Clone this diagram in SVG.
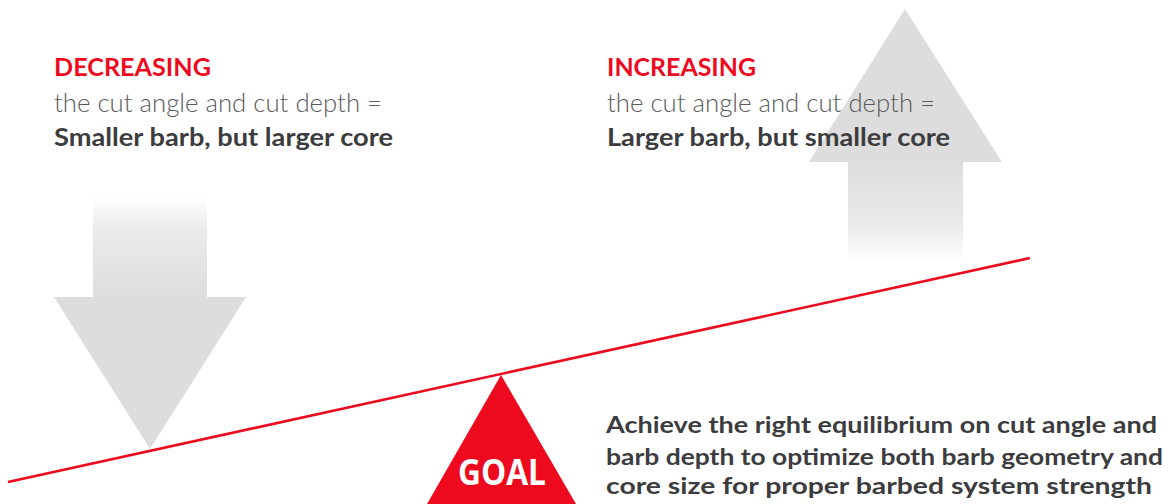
<svg xmlns="http://www.w3.org/2000/svg" width="1175" height="504" viewBox="0 0 1175 504">
  <defs>
    <linearGradient id="fadeDown" x1="0" y1="196" x2="0" y2="297" gradientUnits="userSpaceOnUse">
      <stop offset="0" stop-color="#dcdddc" stop-opacity="0"/>
      <stop offset="0.35" stop-color="#dcdddc" stop-opacity="0.6"/>
      <stop offset="1" stop-color="#dcdddc"/>
    </linearGradient>
    <linearGradient id="fadeUp" x1="0" y1="262" x2="0" y2="162" gradientUnits="userSpaceOnUse">
      <stop offset="0" stop-color="#dcdddc" stop-opacity="0"/>
      <stop offset="0.35" stop-color="#dcdddc" stop-opacity="0.6"/>
      <stop offset="1" stop-color="#dcdddc"/>
    </linearGradient>
    <style>
      text { font-family: Lato, "Liberation Sans", sans-serif; }
      .head { font-weight: 700; font-size: 24px; fill: #ee0a1e; }
      .light { font-weight: 300; font-size: 25px; fill: #5a5a5c; }
      .bold { font-weight: 700; font-size: 25px; fill: #3c3c3e; }
      .note { font-weight: 700; font-size: 23px; fill: #3c3c3e; }
      .goal { font-family: "Open Sans", "Liberation Sans", sans-serif; font-weight: 700; font-size: 35px; fill: #ffffff; }
      .arrow { fill: #dcdddc; }
    </style>
  </defs>

  <!-- downward arrow: decreasing -->
  <g id="arrow-down">
    <rect x="93" y="196" width="114" height="101" fill="url(#fadeDown)"/>
    <polygon class="arrow" points="54,297 246,297 150,449"/>
  </g>

  <!-- upward arrow: increasing -->
  <g id="arrow-up">
    <rect x="848" y="162" width="115" height="100" fill="url(#fadeUp)"/>
    <polygon class="arrow" points="809,162 1002,162 905,9"/>
  </g>

  <!-- decreasing caption -->
  <g id="decreasing">
    <text class="head" x="54" y="76" textLength="157" lengthAdjust="spacingAndGlyphs">DECREASING</text>
    <text class="light" x="54" y="112" textLength="328" lengthAdjust="spacingAndGlyphs">the cut angle and cut depth =</text>
    <text class="bold" x="54" y="145.5" textLength="339" lengthAdjust="spacingAndGlyphs">Smaller barb, but larger core</text>
  </g>

  <!-- increasing caption -->
  <g id="increasing">
    <text class="head" x="607" y="76" textLength="149" lengthAdjust="spacingAndGlyphs">INCREASING</text>
    <text class="light" x="607" y="112" textLength="328" lengthAdjust="spacingAndGlyphs">the cut angle and cut depth =</text>
    <text class="bold" x="607" y="145.5" textLength="343" lengthAdjust="spacingAndGlyphs">Larger barb, but smaller core</text>
  </g>

  <!-- balance beam -->
  <g id="connectors">
    <line x1="8" y1="482" x2="1030" y2="258" stroke="#ee0a1e" stroke-width="2.6"/>
  </g>

  <!-- fulcrum -->
  <g id="goal">
    <polygon points="501,375 576,504 427,504" fill="#ee0a1e"/>
    <text class="goal" x="458" y="485" textLength="88" lengthAdjust="spacingAndGlyphs">GOAL</text>
  </g>

  <!-- goal statement -->
  <g id="statement">
    <text class="note" x="606" y="433" textLength="551" lengthAdjust="spacingAndGlyphs">Achieve the right equilibrium on cut angle and</text>
    <text class="note" x="606" y="465" textLength="557" lengthAdjust="spacingAndGlyphs">barb depth to optimize both barb geometry and</text>
    <text class="note" x="606" y="494" textLength="546" lengthAdjust="spacingAndGlyphs">core size for proper barbed system strength</text>
  </g>
</svg>
